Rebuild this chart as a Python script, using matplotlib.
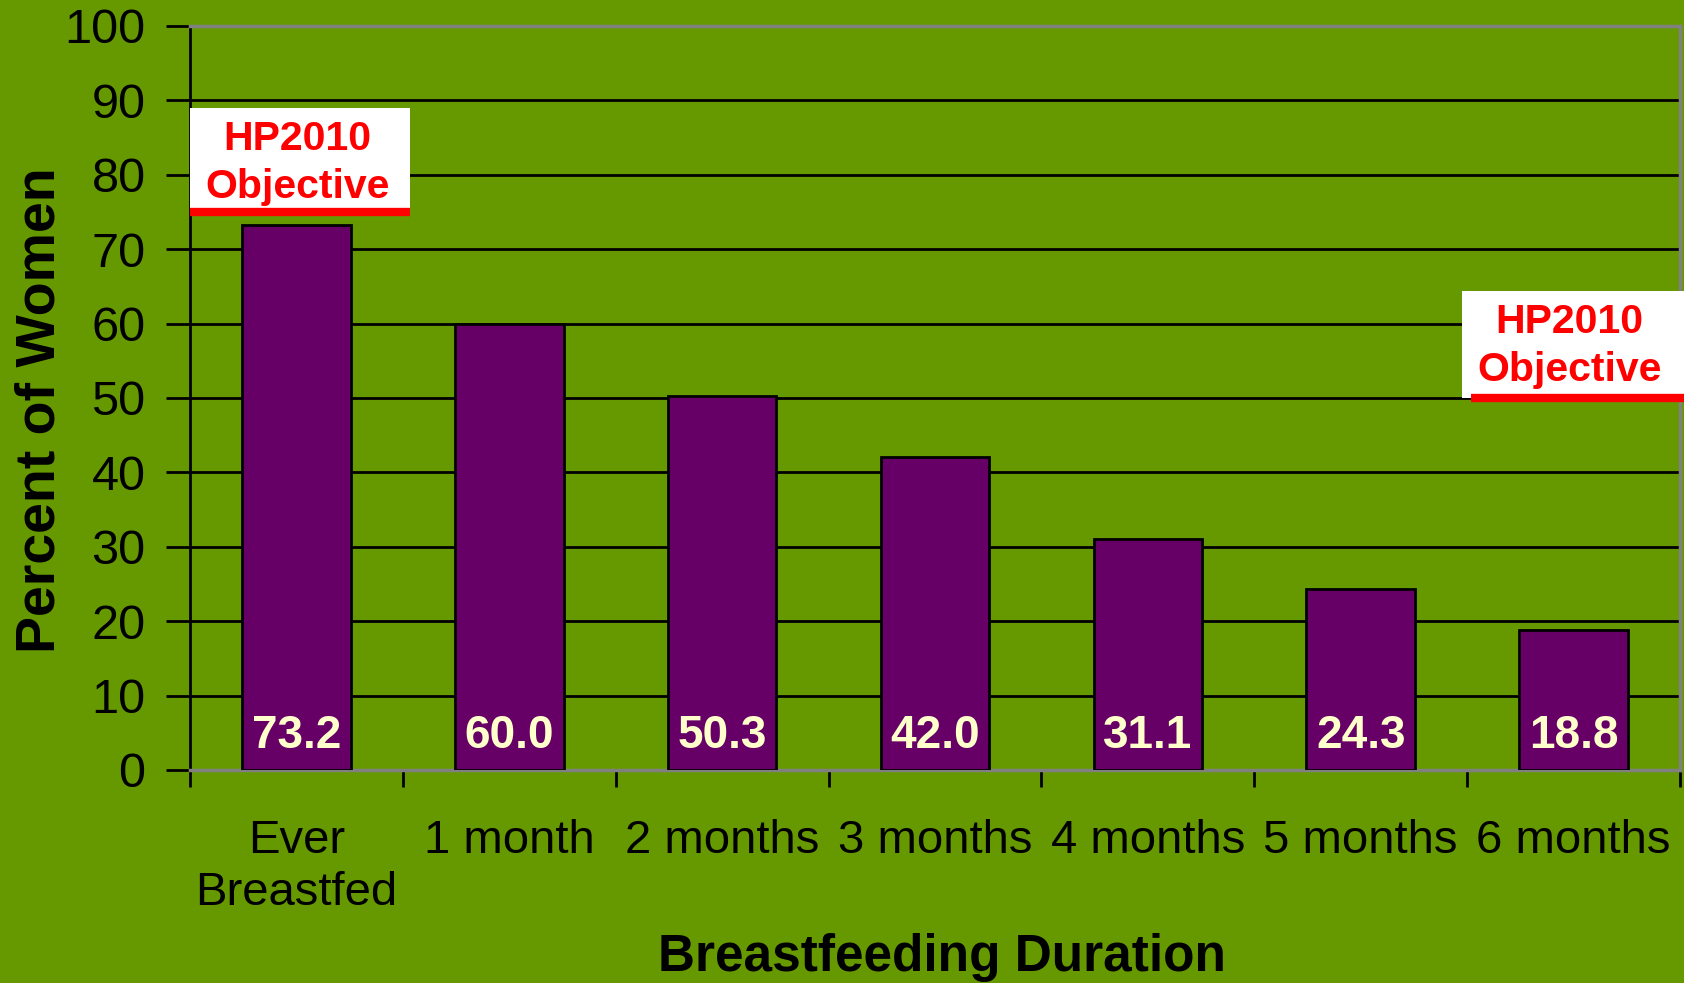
#!/usr/bin/env python3

import numpy as np
import matplotlib
matplotlib.use("Agg")
import matplotlib.pyplot as plt
from matplotlib.patches import Rectangle

categories = ["Ever\nBreastfed", "1 month", "2 months", "3 months",
              "4 months", "5 months", "6 months"]
percent = [73.2, 60.0, 50.3, 42.0, 31.1, 24.3, 18.8]
objective_ever = 75
objective_6mo = 50


def draw():
    plt.rcParams['font.family'] = ['Liberation Sans', 'DejaVu Sans']
    green = '#669900'
    purple = '#660066'

    fig = plt.figure(figsize=(16.84, 9.83), dpi=100)
    fig.patch.set_facecolor(green)
    ax = fig.add_axes([0.1128, 0.2167, 0.8848, 0.7569])
    ax.set_facecolor(green)

    x = np.arange(len(categories))
    ax.bar(x, percent, width=0.51, color=purple, edgecolor='black',
           linewidth=2, zorder=3)
    for xi, v in zip(x, percent):
        ax.text(xi, 4.6, f"{v:.1f}", ha='center', va='center', color='#FFFFCC',
                fontsize=33, fontweight='bold', zorder=4)

    ax.set_xlim(-0.5, len(categories) - 0.5)
    ax.set_ylim(0, 100)
    ax.set_yticks(range(0, 101, 10))
    ax.set_xticks(x)
    ax.set_xticklabels(categories, fontsize=34, linespacing=1.25)
    ax.set_xticks(np.arange(-0.5, len(categories), 1), minor=True)
    ax.tick_params(axis='x', which='major', length=0, pad=35)
    ax.tick_params(axis='x', which='minor', length=12, width=2, direction='out')
    ax.tick_params(axis='y', labelsize=35, length=17, width=2, pad=15)

    ax.yaxis.grid(True, color='black', linewidth=2, zorder=1)
    ax.set_axisbelow(True)
    for s in ['top', 'right', 'bottom']:
        ax.spines[s].set_color('#808080')
        ax.spines[s].set_linewidth(2.5)
    ax.spines['left'].set_linewidth(2)

    # HP2010 objective boxes
    ax.add_patch(Rectangle((-0.5, objective_ever), 1.033, 89.0 - objective_ever,
                           facecolor='white', edgecolor='none', zorder=5,
                           clip_on=False))
    ax.hlines(objective_ever, -0.5, 0.533, color='red', linewidth=6, zorder=6)
    ax.text(0.005, 81.6, "HP2010\nObjective", ha='center', va='center',
            color='red', fontsize=29.5, fontweight='bold', linespacing=1.35,
            zorder=7)

    ax.add_patch(Rectangle((5.475, objective_6mo), 1.05, 64.4 - objective_6mo,
                           facecolor='white', edgecolor='none', zorder=5,
                           clip_on=False))
    ax.hlines(objective_6mo, 5.52, 6.52, color='red', linewidth=6, zorder=6,
              clip_on=False)
    ax.text(5.98, 57.0, "HP2010\nObjective", ha='center', va='center',
            color='red', fontsize=29.5, fontweight='bold', linespacing=1.35,
            zorder=7, clip_on=False)

    ax.set_ylabel("Percent of Women", fontsize=40, fontweight='bold')
    ax.yaxis.set_label_coords(-0.083, 0.484)
    ax.set_xlabel("Breastfeeding Duration", fontsize=37, fontweight='bold')
    ax.xaxis.set_label_coords(0.505, -0.219)

    fig.savefig('out.png', dpi=100, facecolor=green)


if __name__ == "__main__":
    draw()
